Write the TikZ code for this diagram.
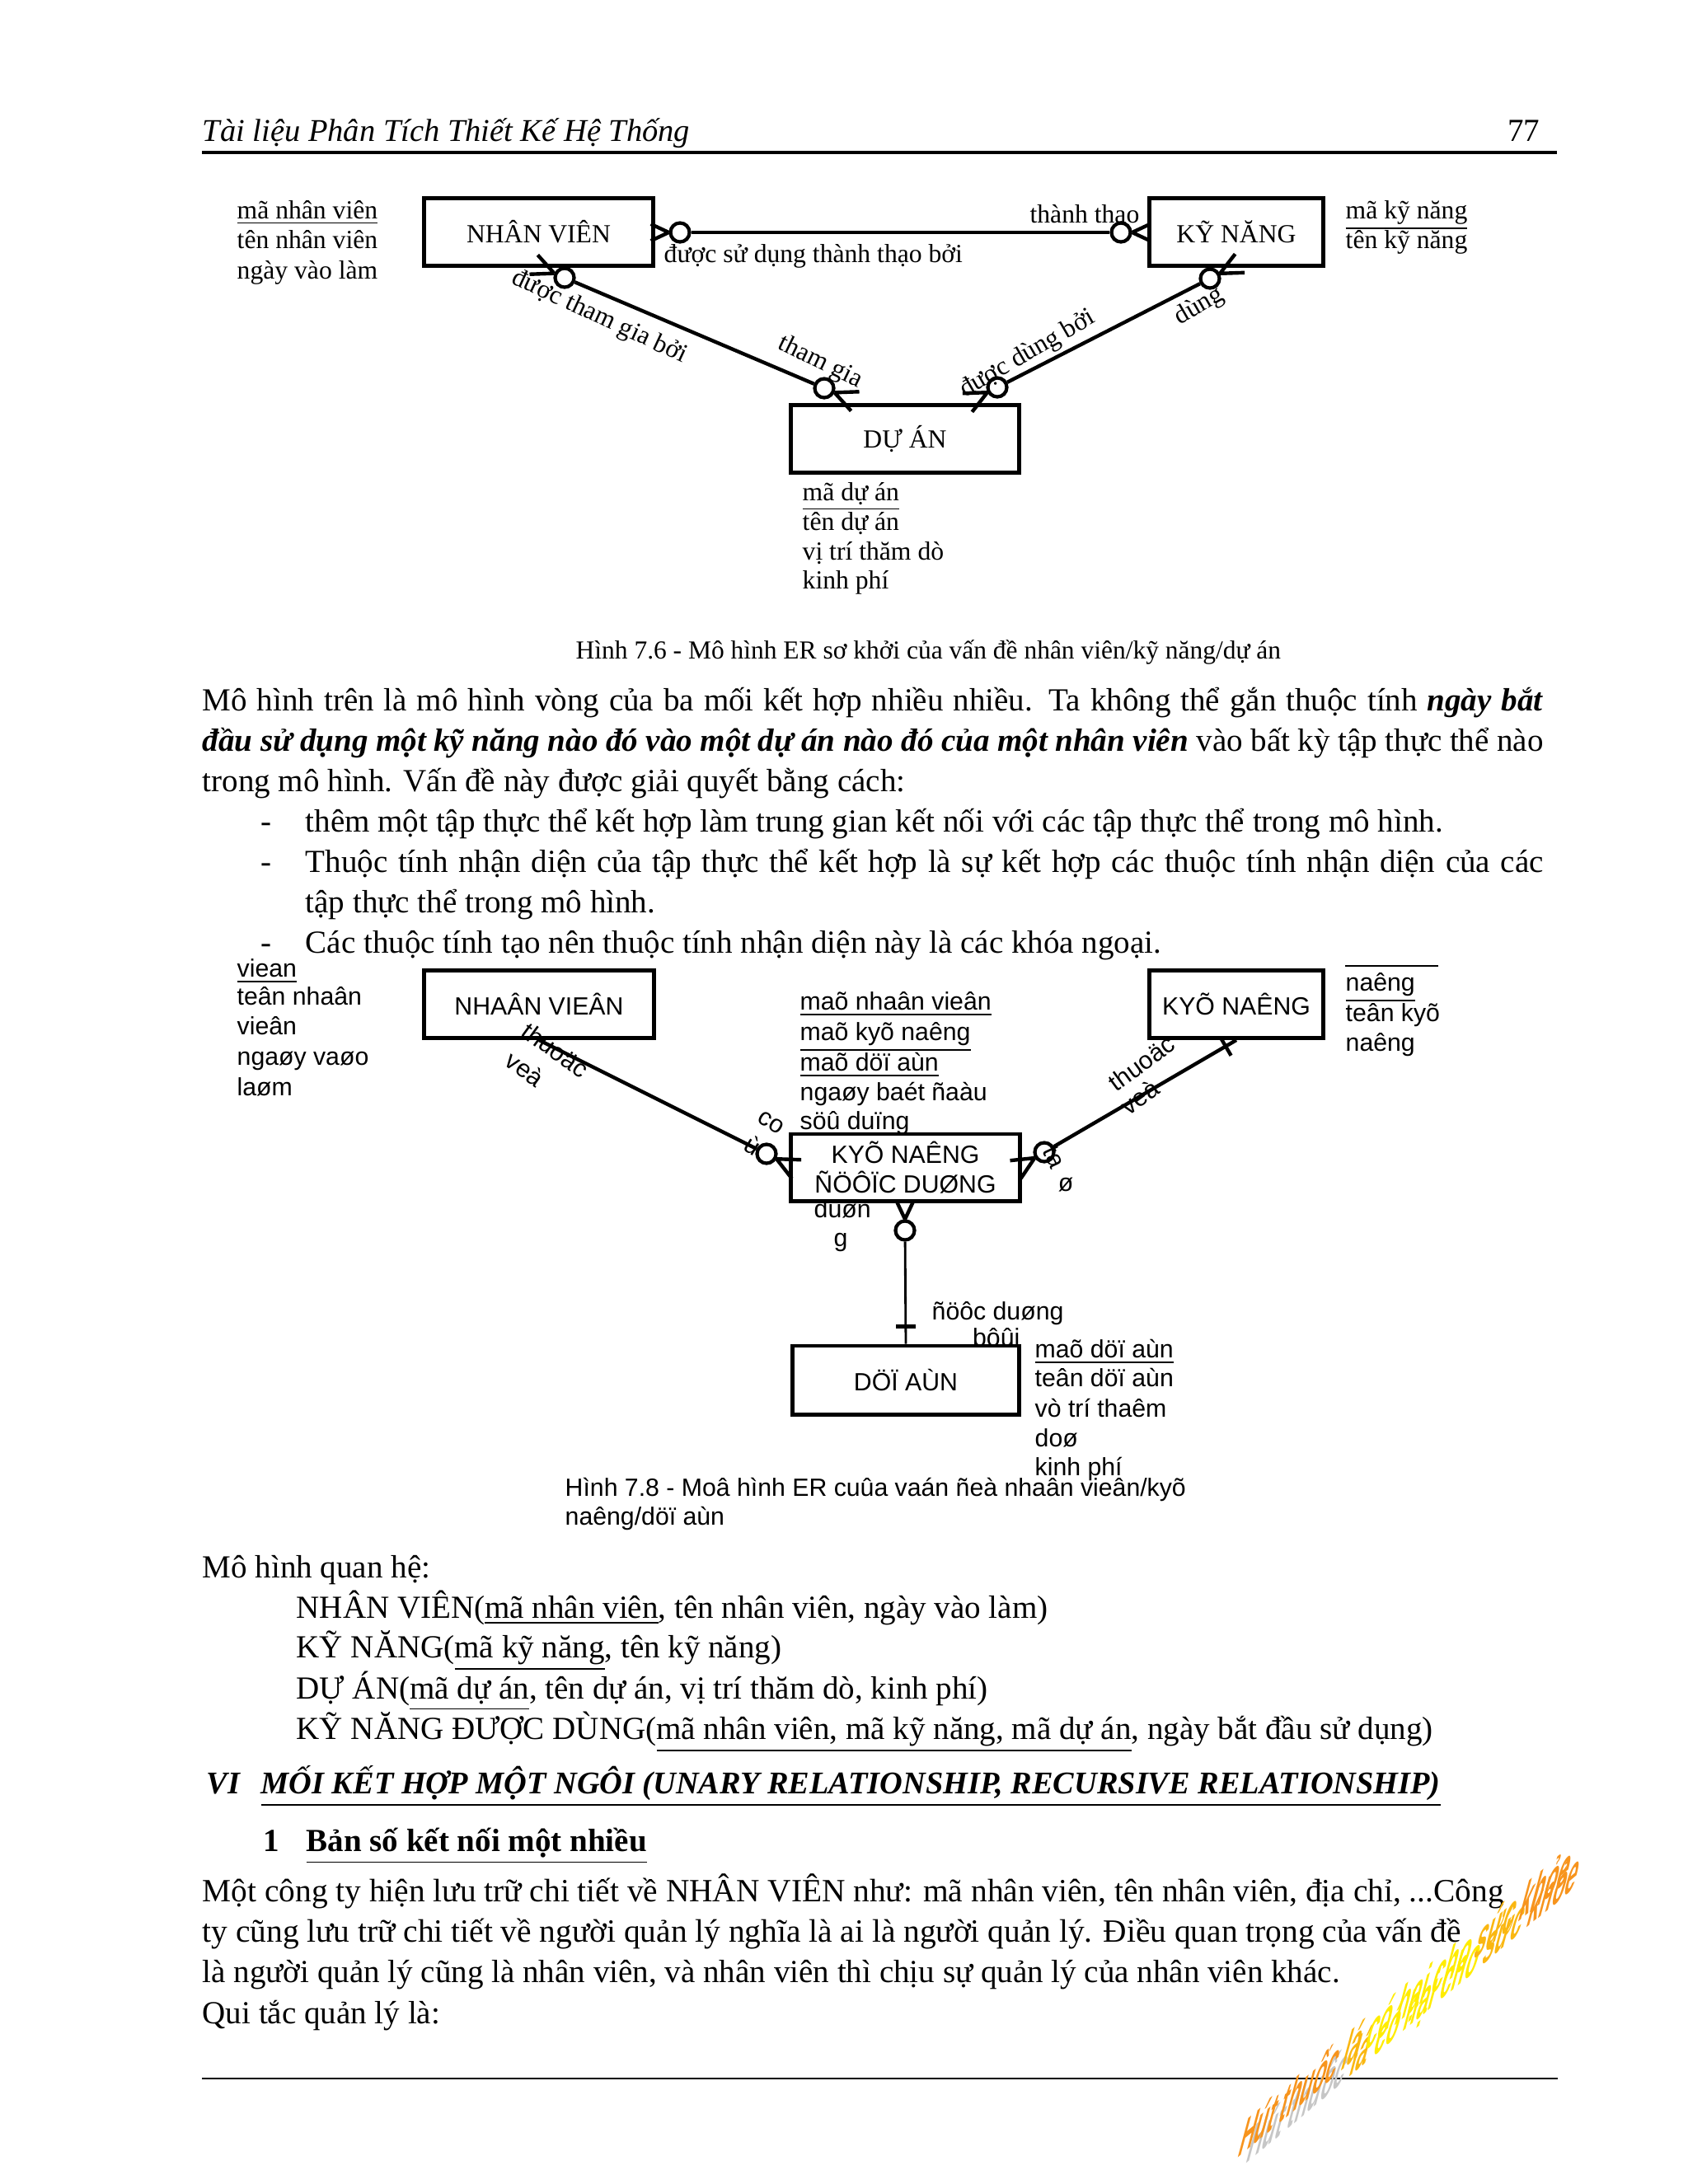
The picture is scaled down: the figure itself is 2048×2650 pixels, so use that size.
\documentclass[tikz,border=0pt]{standalone}
\usepackage{fontspec}
\setmainfont{Liberation Serif}
\newfontfamily\arialf{Liberation Sans}
\usetikzlibrary{calc, positioning}

\definecolor{wmorange}{RGB}{247,148,29}
\definecolor{wmyellow}{RGB}{255,236,0}

\newcommand{\jl}[2]{\makebox[#1][s]{#2}}
\newcommand{\crow}[3][30]{\draw[conn] (#2.#3) -- ++(#3+25:#1) (#2.#3) -- ++(#3-25:#1);}
\newcommand{\wmtext}[1][]{%
  {#1Hút thuốc }{#1\color{wmorange!60!wmyellow}lá }{#1\color{wmyellow}có hại cho }%
  {#1\color{wmorange!60!wmyellow}sức }{#1\color{wmorange}khỏe}}

\begin{document}
\begin{tikzpicture}[x=0.01cm, y=0.01cm,
  ent/.style={draw, line width=1.4pt, inner sep=0pt, minimum width=2.77cm,
    minimum height=0.82cm, font=\fontsize{9}{10.5}\selectfont},
  ent2/.style={ent, font=\arialf\fontsize{8.6}{10.4}\selectfont, align=center},
  opt/.style={draw, circle, line width=1.2pt, minimum size=0.23cm, inner sep=0pt},
  conn/.style={line width=1.25pt},
  txt/.style={anchor=west, inner sep=0pt, font=\fontsize{9}{10.5}\selectfont,
    text height=6pt, text depth=2pt},
  lbl/.style={inner sep=0pt, font=\fontsize{9}{10.5}\selectfont},
  atr/.style={anchor=west, inner sep=0pt, font=\arialf\fontsize{8.6}{10.4}\selectfont,
    text height=6.5pt, text depth=2pt},
  lbl2/.style={inner sep=0pt, font=\arialf\fontsize{8.6}{10.4}\selectfont},
  body/.style={anchor=west, inner sep=0pt, font=\fontsize{11.1}{14.2}\selectfont,
    text height=7.5pt, text depth=2.5pt},
  wm/.style={anchor=base west, inner sep=0pt, font=\arialf\bfseries\fontsize{17}{17}\selectfont,
    cm={0.425,0.357,0.31,1.16,(0,0)}}]
\useasboundingbox (0,0) rectangle (2048,-2650);

% header
\node[body, font=\itshape\fontsize{10.95}{14.2}\selectfont] (hd) at (245,-163) {Tài liệu Phân Tích Thiết Kế Hệ Thống};
\node[body, anchor=east] (pg) at (1869,-163) {77};
\draw[line width=1pt] (245,-185) -- (1889,-185);

% ER 7.6
\node[ent] (nv) at (653.5,-281.5) {NHÂN VIÊN};
\node[ent, minimum width=2.1cm] (kn) at (1500,-281.5) {KỸ NĂNG};
\node[ent, minimum width=2.76cm] (da) at (1098,-532.5) {DỰ ÁN};

\node[opt] (nkL) at (825,-282) {};
\node[opt] (nkR) at (1360,-282) {};
\node[opt] (nvD) at (685,-337) {};
\node[opt] (daL) at (1000,-471) {};
\node[opt] (daR) at (1210,-470) {};
\node[opt] (knD) at (1468,-338) {};

\draw[conn] (nkL) -- (nkR);
\draw[conn] (nvD) -- (daL);
\draw[conn] (knD) -- (daR);
\crow[24]{nkL}{180}
\crow[24]{nkR}{0}
\crow{nvD}{157}
\crow{daL}{-23}
\crow{knD}{27}
\crow{daR}{207}

\node[lbl, anchor=east] (l1) at (1383,-260) {thành thao};
\node[txt] (l2) at (805,-311) {được sử dụng thành thạo bởi};
\node[lbl, rotate=-25] (l3) at (727,-385) {được tham gia bởi};
\node[lbl, rotate=-26] (l4) at (995,-440) {tham gia};
\node[lbl, rotate=30] (l5) at (1247,-430) {được dùng bởi};
\node[lbl, rotate=30] (l6) at (1455,-372) {dùng};

\node[txt] (a1) at (287,-258) {\underline{mã nhân viên}};
\node[txt] (a2) at (287,-294) {tên nhân viên};
\node[txt] (a3) at (287,-331) {ngày vào làm};
\node[txt] (a4) at (1632,-258) {\underline{mã kỹ năng}};
\node[txt] (a5) at (1632,-294) {tên kỹ năng};
\node[txt] (a6) at (973,-600) {\underline{mã dự án}};
\node[txt] (a7) at (973,-636) {tên dự án};
\node[txt] (a8) at (973,-672) {vị trí thăm dò};
\node[txt] (a9) at (973,-707) {kinh phí};

\node[txt, font=\fontsize{8.95}{10.5}\selectfont] (cap1) at (698,-792) {Hình 7.6 - Mô hình ER sơ khởi của vấn đề nhân viên/kỹ năng/dự án};

% text
\node[body] (p1) at (245,-854) {\jl{16.26cm}{Mô hình trên là mô hình vòng của ba mối kết hợp nhiều nhiều. Ta không thể gắn thuộc tính \textbf{\textit{ngày bắt}}}};
\node[body] (p2) at (245,-903) {\jl{16.26cm}{\textbf{\textit{đầu sử dụng một kỹ năng nào đó vào một dự án nào đó của một nhân viên}} vào bất kỳ tập thực thể nào}};
\node[body] (p3) at (245,-952) {trong mô hình. Vấn đề này được giải quyết bằng cách:};
\node[body] (d1) at (316,-1001) {-};
\node[body] (b1) at (370,-1001) {thêm một tập thực thể kết hợp làm trung gian kết nối với các tập thực thể trong mô hình.};
\node[body] (d2) at (316,-1050) {-};
\node[body] (b2) at (370,-1050) {\jl{15.01cm}{Thuộc tính nhận diện của tập thực thể kết hợp là sự kết hợp các thuộc tính nhận diện của các}};
\node[body] (b2b) at (370,-1099) {tập thực thể trong mô hình.};
\node[body] (d3) at (316,-1148) {-};
\node[body] (b3) at (370,-1148) {Các thuộc tính tạo nên thuộc tính nhận diện này là các khóa ngoại.};

% ER 7.8
\node[ent2, minimum width=2.78cm] (nv2) at (654,-1218.5) {NHAÂN VIEÂN};
\node[ent2, minimum width=2.1cm] (kn2) at (1500,-1218.5) {KYÕ NAÊNG};
\node[ent2, minimum height=0.81cm] (kndd) at (1098.5,-1416.5) {KYÕ NAÊNG\\ÑÖÔÏC DUØNG};
\node[ent2, minimum width=2.74cm, minimum height=0.83cm] (da2) at (1099,-1674.5) {DÖÏ AÙN};

\node[opt] (c2L) at (930,-1400) {};
\node[opt] (c2R) at (1267,-1398) {};
\node[opt] (c2B) at (1098,-1493) {};

\draw[conn] (nv2.south) -- (c2L);
\draw[conn] (kn2.south) -- (c2R);
\draw[line width=0.8pt] (c2B) -- (da2.north);
\crow{c2L}{-27}
\crow{c2R}{211}
\crow[24]{c2B}{90}
\coordinate (tk) at ($(kn2.south)!0.15cm!(c2R)$);
\draw[conn] ($(tk)!0.13cm!90:(c2R)$) -- ($(tk)!0.13cm!-90:(c2R)$);
\coordinate (bar) at ($(da2.north)+(0,21)$);
\draw[line width=1.6pt] ($(bar)+(-12,0)$) -- ($(bar)+(12,0)$);

\node[lbl2, rotate=-36] (m1) at (674,-1274) {thuoäc};
\node[lbl2, rotate=-36] (m2) at (637,-1297) {veà};
\node[lbl2, rotate=36] (m3) at (1385,-1290) {thuoäc};
\node[lbl2, rotate=36] (m4) at (1383,-1331) {veà};
\node[lbl2, rotate=-32] (m5) at (935,-1362) {co};
\node[lbl2, rotate=-32] (m6) at (913,-1390) {ù};
\node[lbl2, rotate=-65] (m7) at (1279,-1404) {ta};
\node[lbl2] (m8) at (1293,-1438) {ø};
\node[atr] (m9) at (987,-1470) {duøn};
\node[lbl2] (m10) at (1020,-1507) {g};
\node[atr] (m11) at (1130,-1594) {ñöôc duøng};
\node[atr, anchor=east] (m12) at (1238,-1626) {bôûi};

\node[atr] (e1) at (287,-1178) {\underline{viean}};
\node[atr] (e2) at (287,-1212) {teân nhaân};
\node[atr] (e3) at (287,-1248) {vieân};
\node[atr] (e4) at (287,-1285) {ngaøy vaøo};
\node[atr] (e5) at (287,-1322) {laøm};
\node[atr] (f1) at (970,-1218) {\underline{maõ nhaân vieân}};
\node[atr] (f2) at (970,-1255) {\underline{maõ kyõ naêng}};
\node[atr] (f3) at (970,-1292) {\underline{maõ döï aùn}};
\node[atr] (f4) at (970,-1328) {ngaøy baét ñaàu};
\node[atr] (f5) at (970,-1363) {söû duïng};
\draw[line width=0.6pt] (1632,-1172) -- (1745,-1172);
\node[atr] (g1) at (1632,-1195) {\underline{naêng}};
\node[atr] (g2) at (1632,-1232) {teân kyõ};
\node[atr] (g3) at (1632,-1268) {naêng};
\node[atr] (h1) at (1255,-1640) {\underline{maõ döï aùn}};
\node[atr] (h2) at (1255,-1675) {teân döï aùn};
\node[atr] (h3) at (1255,-1712) {vò trí thaêm};
\node[atr] (h4) at (1255,-1748) {doø};
\node[atr] (h5) at (1255,-1783) {kinh phí};

\node[atr] (cap2) at (685,-1808) {Hình 7.8 - Moâ hình ER cuûa vaán ñeà nhaân vieân/kyõ};
\node[atr] (cap2b) at (685,-1843) {naêng/döï aùn};

% relational model
\node[body] (r0) at (245,-1906) {Mô hình quan hệ:};
\node[body] (r1) at (359,-1955) {NHÂN VIÊN(\underline{mã nhân viên}, tên nhân viên, ngày vào làm)};
\node[body] (r2) at (359,-2003) {KỸ NĂNG(\underline{mã kỹ năng}, tên kỹ năng)};
\node[body] (r3) at (359,-2053) {DỰ ÁN(\underline{mã dự án}, tên dự án, vị trí thăm dò, kinh phí)};
\node[body] (r4) at (359,-2102) {KỸ NĂNG ĐƯỢC DÙNG(\underline{mã nhân viên, mã kỹ năng, mã dự án}, ngày bắt đầu sử dụng)};

\node[body, font=\bfseries\itshape\fontsize{10.9}{14.2}\selectfont] (s6) at (250,-2168) {VI};
\node[body, font=\bfseries\itshape\fontsize{10.9}{14.2}\selectfont] (s6t) at (316,-2168) {\underline{MỐI KẾT HỢP MỘT NGÔI (UNARY RELATIONSHIP, RECURSIVE RELATIONSHIP)}};
\node[body, font=\bfseries\fontsize{11.1}{14.2}\selectfont] (s1) at (319,-2238) {1};
\node[body, font=\bfseries\fontsize{11.1}{14.2}\selectfont] (s1t) at (371,-2238) {\underline{Bản số kết nối một nhiều}};

\node[body, font=\fontsize{11.2}{14.2}\selectfont] (q1) at (245,-2299) {Một công ty hiện lưu trữ chi tiết về NHÂN VIÊN như: mã nhân viên, tên nhân viên, địa chỉ, ...Công};
\node[body, font=\fontsize{11.2}{14.2}\selectfont] (q2) at (245,-2348) {ty cũng lưu trữ chi tiết về người quản lý nghĩa là ai là người quản lý. Điều quan trọng của vấn đề};
\node[body] (q3) at (245,-2397) {là người quản lý cũng là nhân viên, và nhân viên thì chịu sự quản lý của nhân viên khác.};
\node[body] (q4) at (245,-2447) {Qui tắc quản lý là:};

\draw[line width=0.7pt] (245,-2522) -- (1890,-2522);

% watermark
\node[wm, text=gray!45] (wms) at (1510,-2627) {\wmtext[\color{gray!45}]};
\node[wm, text=wmorange] (wmt) at (1500,-2620) {\wmtext};
\end{tikzpicture}
\end{document}
